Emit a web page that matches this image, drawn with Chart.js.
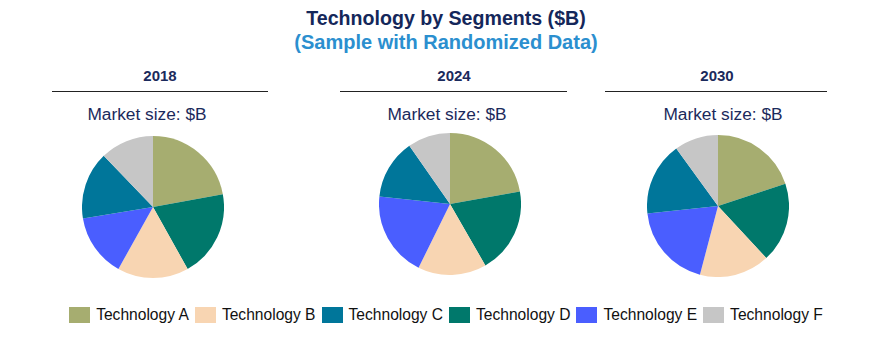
<!DOCTYPE html>
<html>
<head>
<meta charset="utf-8">
<script src="https://cdn.jsdelivr.net/npm/chart.js@4.4.0/dist/chart.umd.min.js"></script>
<style>
  html, body { margin: 0; padding: 0; background: #fff; }
  body { width: 892px; height: 363px; position: relative; overflow: hidden; font-family: "Liberation Sans", Arial, sans-serif; }
  .abs { position: absolute; }
  .title { left: 0; width: 892px; text-align: center; font-weight: bold; }
  .year { font-weight: bold; font-size: 15px; color: #1b2a5c; text-align: center; width: 200px; }
  .rule { height: 0; border-top: 1.5px solid #222; }
  .msize { font-size: 17.3px; color: #1b2a5c; text-align: center; width: 200px; }
  #legend { left: 0; top: 306px; width: 892px; display: flex; justify-content: center; }
  .item { display: flex; align-items: center; margin: 0 3px 0 3px; }
  .sw { width: 21px; height: 16px; margin-right: 6px; }
  .lt { font-size: 15.6px; color: #111; white-space: nowrap; }
</style>
</head>
<body>
<div class="abs title" style="top:7px;font-size:19.6px;color:#14275a;">Technology by Segments ($B)</div>
<div class="abs title" style="top:31px;font-size:20px;color:#2b8fcf;">(Sample with Randomized Data)</div>
<div id="panels"></div>
<div class="abs" id="legend"></div>
<script>
// ---- data ----
const years = ['2018', '2024', '2030'];
const technologies = ['Technology A', 'Technology B', 'Technology C', 'Technology D', 'Technology E', 'Technology F'];
const techColors = ['#a6ad70', '#f8d5b2', '#00769a', '#00786b', '#4a5eff', '#c6c6c6'];
// clockwise drawing order of the slices, starting at 12 o'clock
const sliceOrder = ['Technology A', 'Technology D', 'Technology B', 'Technology E', 'Technology C', 'Technology F'];
// values in $B, per technology (A..F)
const values2018 = [22.1, 16.2, 15.4, 19.8, 14.3, 12.2];
const values2024 = [22.2, 15.6, 13.6, 19.5, 19.4, 9.7];
const values2030 = [19.9, 16.0, 16.7, 18.2, 19.2, 10.0];
const seriesByYear = [values2018, values2024, values2030];
const panelSubtitle = 'Market size: $B';

// ---- layout ----
const panels = [
  { yearX: 160, ruleL: 52, ruleR: 268, msX: 147, cx: 153, cy: 207 },
  { yearX: 454, ruleL: 340, ruleR: 567, msX: 447, cx: 450, cy: 204 },
  { yearX: 717, ruleL: 605, ruleR: 827, msX: 723, cx: 718, cy: 206 }
];
const R = 71;
const host = document.getElementById('panels');

years.forEach((yr, i) => {
  const p = panels[i];
  const y = document.createElement('div');
  y.className = 'abs year'; y.style.left = (p.yearX - 100) + 'px'; y.style.top = '67px'; y.textContent = yr;
  host.appendChild(y);
  const r = document.createElement('div');
  r.className = 'abs rule'; r.style.left = p.ruleL + 'px'; r.style.width = (p.ruleR - p.ruleL) + 'px'; r.style.top = '91px';
  host.appendChild(r);
  const m = document.createElement('div');
  m.className = 'abs msize'; m.style.left = (p.msX - 100) + 'px'; m.style.top = '104px'; m.textContent = panelSubtitle;
  host.appendChild(m);

  const c = document.createElement('canvas');
  c.width = 2 * R; c.height = 2 * R;
  c.className = 'abs';
  c.style.left = (p.cx - R) + 'px'; c.style.top = (p.cy - R) + 'px';
  c.style.width = 2 * R + 'px'; c.style.height = 2 * R + 'px';
  host.appendChild(c);

  const vals = seriesByYear[i];
  const idx = sliceOrder.map(n => technologies.indexOf(n));
  new Chart(c, {
    type: 'pie',
    data: {
      labels: idx.map(k => technologies[k]),
      datasets: [{
        data: idx.map(k => vals[k]),
        backgroundColor: idx.map(k => techColors[k]),
        borderWidth: 0
      }]
    },
    options: {
      responsive: false,
      maintainAspectRatio: false,
      devicePixelRatio: 1,
      animation: false,
      layout: { padding: 0 },
      plugins: { legend: { display: false }, tooltip: { enabled: false }, title: { display: false } }
    }
  });
});

// ---- legend ----
const lg = document.getElementById('legend');
technologies.forEach((t, k) => {
  const it = document.createElement('div'); it.className = 'item';
  const sw = document.createElement('div'); sw.className = 'sw'; sw.style.background = techColors[k];
  const tx = document.createElement('div'); tx.className = 'lt'; tx.textContent = t;
  it.appendChild(sw); it.appendChild(tx); lg.appendChild(it);
});
</script>
</body>
</html>
